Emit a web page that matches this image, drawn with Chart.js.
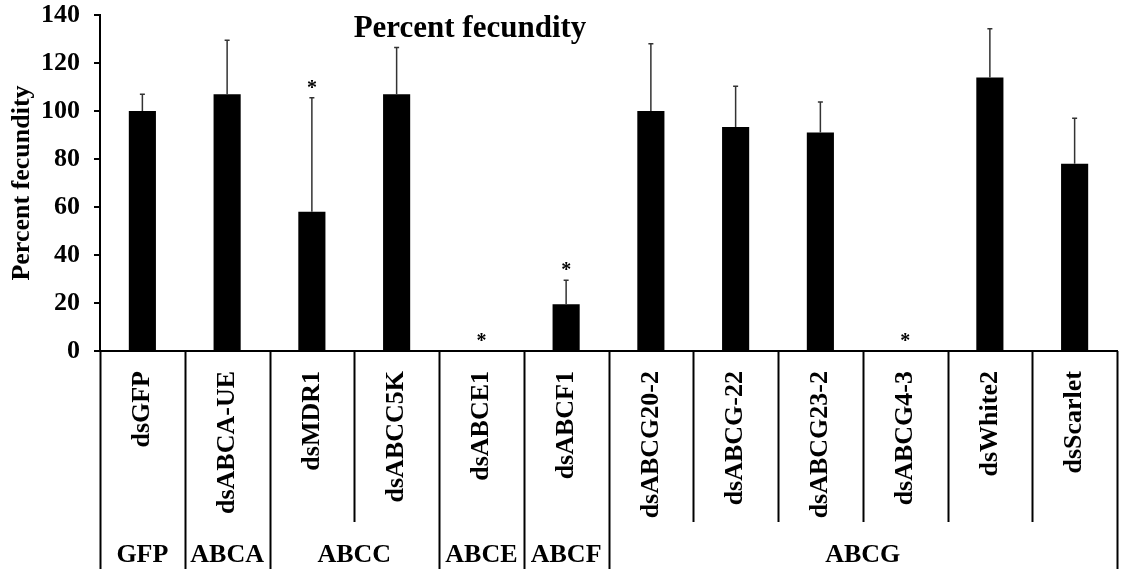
<!DOCTYPE html>
<html>
<head>
<meta charset="utf-8">
<script src="https://cdn.jsdelivr.net/npm/chart.js@4/dist/chart.umd.min.js"></script>
<style>
  html, body { margin: 0; padding: 0; background: #fff; }
  #wrap { width: 1128px; height: 569px; }
</style>
</head>
<body>
<div id="wrap"><canvas id="c" width="1128" height="569"></canvas></div>
<script>
// Knock-down treatments, in plotting order
const categories = ['dsGFP', 'dsABCA-UE', 'dsMDR1', 'dsABCC5K', 'dsABCE1', 'dsABCF1',
  'dsABCG20-2', 'dsABCG-22', 'dsABCG23-2', 'dsABCG4-3', 'dsWhite2', 'dsScarlet'];
// Mean fecundity relative to dsGFP (%)
const fecundity = [100, 107, 58, 107, 0, 19.5, 100, 93.3, 91, 0, 114, 78];
// Upper error (SD) for each treatment
const errorUpper = [7, 22.5, 47.5, 19.5, 0, 10, 28, 17, 12.8, 0, 20.3, 19];
// Treatments that differ significantly from the control
const significant = [false, false, true, false, true, true, false, false, false, true, false, false];
// ABC transporter subfamilies and how many treatments each spans
const subfamilies = ['GFP', 'ABCA', 'ABCC', 'ABCE', 'ABCF', 'ABCG'];
const subfamilySizes = [1, 1, 2, 1, 1, 6];
// Y axis ticks
const yTicks = [0, 20, 40, 60, 80, 100, 120, 140];

const SERIF = '"Liberation Serif", "Times New Roman", serif';

// Error bars, significance stars, the label table under the axis and the title
const decorations = {
  id: 'decorations',
  afterDatasetsDraw(chart) {
    const ctx = chart.ctx;
    const y = chart.scales.y;
    const meta = chart.getDatasetMeta(0);
    ctx.save();
    // error bars
    ctx.strokeStyle = '#333';
    ctx.lineWidth = 1.5;
    fecundity.forEach((v, i) => {
      if (!errorUpper[i]) return;
      const cx = meta.data[i].x;
      const y0 = y.getPixelForValue(v);
      const y1 = y.getPixelForValue(v + errorUpper[i]);
      ctx.beginPath();
      ctx.moveTo(cx, y0);
      ctx.lineTo(cx, y1);
      ctx.moveTo(cx - 2.5, y1);
      ctx.lineTo(cx + 2.5, y1);
      ctx.stroke();
    });
    // significance stars
    ctx.fillStyle = '#000';
    ctx.font = 'bold 20px ' + SERIF;
    ctx.textAlign = 'center';
    ctx.textBaseline = 'middle';
    fecundity.forEach((v, i) => {
      if (!significant[i]) return;
      const cx = meta.data[i].x;
      const top = y.getPixelForValue(v + errorUpper[i]);
      ctx.fillText('*', cx, top - 9);
    });
    ctx.restore();
  },
  afterDraw(chart) {
    const ctx = chart.ctx;
    const x = chart.scales.x;
    const area = chart.chartArea;
    const step = x.getPixelForValue(1) - x.getPixelForValue(0);
    const edge = i => x.getPixelForValue(0) - step / 2 + i * step;
    const bottom = chart.height;
    const shortEnd = area.bottom + 171;
    ctx.save();
    ctx.strokeStyle = '#000';
    ctx.lineWidth = 2;
    // subfamily boundaries run the full height; treatment boundaries stop above the subfamily row
    const groupEdges = new Set([0]);
    let acc = 0;
    subfamilySizes.forEach(n => { acc += n; groupEdges.add(acc); });
    for (let i = 0; i <= categories.length; i++) {
      const px = Math.round(edge(i)) + 0.5;
      ctx.beginPath();
      ctx.moveTo(px, area.bottom);
      ctx.lineTo(px, groupEdges.has(i) ? bottom : shortEnd);
      ctx.stroke();
    }
    // subfamily names
    ctx.fillStyle = '#000';
    ctx.font = 'bold 26px ' + SERIF;
    ctx.textAlign = 'center';
    ctx.textBaseline = 'middle';
    let start = 0;
    subfamilies.forEach((name, g) => {
      const end = start + subfamilySizes[g];
      ctx.fillText(name, (edge(start) + edge(end)) / 2, area.bottom + 204);
      start = end;
    });
    // chart title
    ctx.font = 'bold 31px ' + SERIF;
    ctx.textBaseline = 'alphabetic';
    ctx.fillText('Percent fecundity', 470, 37);
    ctx.restore();
  }
};

new Chart(document.getElementById('c'), {
  type: 'bar',
  data: {
    labels: categories,
    datasets: [{
      data: fecundity,
      backgroundColor: '#000',
      borderWidth: 0,
      barPercentage: 0.32,
      categoryPercentage: 1
    }]
  },
  options: {
    responsive: false,
    animation: false,
    devicePixelRatio: 1,
    layout: { padding: { top: 15, right: 11, bottom: 0, left: 0 } },
    plugins: { legend: { display: false }, tooltip: { enabled: false }, title: { display: false } },
    scales: {
      x: {
        grid: { display: false },
        border: { display: true, color: '#000', width: 2 },
        ticks: {
          autoSkip: false,
          minRotation: 90,
          maxRotation: 90,
          padding: 12,
          color: '#000',
          font: { family: SERIF, size: 26, weight: 'bold' }
        },
        afterFit(scale) { scale.height = 218; }
      },
      y: {
        min: 0,
        max: 140,
        afterBuildTicks(scale) { scale.ticks = yTicks.map(v => ({ value: v })); },
        grid: { drawOnChartArea: false, drawTicks: true, tickLength: 6, color: '#000', lineWidth: 2 },
        border: { display: true, color: '#000', width: 2 },
        ticks: {
          padding: 14,
          color: '#000',
          font: { family: SERIF, size: 26, weight: 'bold' }
        },
        title: {
          display: true,
          text: 'Percent fecundity',
          color: '#000',
          padding: { top: 7, bottom: 0 },
          font: { family: SERIF, size: 26, weight: 'bold' }
        },
        afterFit(scale) {
          scale.width = 100;
          scale.paddingTop = 0;
          scale.paddingBottom = 0;
        }
      }
    }
  },
  plugins: [decorations]
});
</script>
</body>
</html>
